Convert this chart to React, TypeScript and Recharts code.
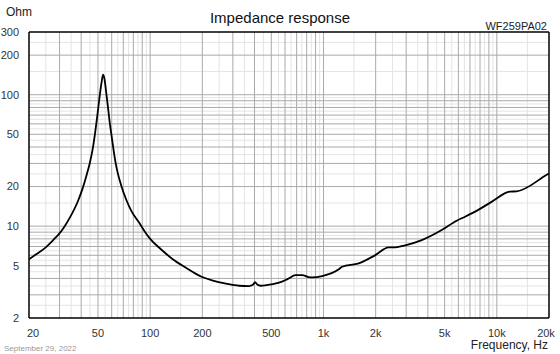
import React from "react";
import { LineChart, Line, XAxis, YAxis, ReferenceLine } from "recharts";

const freqs = [20, 22, 25, 28, 30, 32, 34.4, 38.4, 41, 43, 44.8, 46.5, 48, 49.5, 51, 52.5, 53.5, 54.5, 55.5, 57, 58.4, 60, 61.5, 63, 65.2, 68, 72.9, 78, 86.9, 93, 100, 115, 135, 160, 198, 230, 274, 326, 372, 392, 403, 415, 434, 500, 554, 620, 691, 754, 820, 861, 982, 1225, 1281, 1597, 1991, 2376, 2600, 2963, 3690, 4810, 5865, 6555, 7815, 9320, 11890, 13000, 19300, 20000];
const impedance = [5.6, 6.1, 6.9, 8.0, 8.8, 9.9, 11.6, 15.6, 19.8, 24.5, 30, 38, 50, 68, 95, 125, 142, 132, 110, 82, 62, 48, 38, 31, 25, 20.5, 15.8, 13, 10.5, 9.1, 8.0, 6.7, 5.6, 4.85, 4.12, 3.85, 3.65, 3.52, 3.5, 3.58, 3.74, 3.6, 3.52, 3.6, 3.71, 3.95, 4.24, 4.24, 4.1, 4.08, 4.17, 4.69, 4.91, 5.21, 6.02, 6.9, 6.9, 7.15, 7.83, 9.34, 11.0, 11.8, 13.3, 15.3, 18.3, 18.4, 24.5, 25.2];

const xTicks = [20, 50, 100, 200, 500, 1000, 2000, 5000, 10000, 20000];
const yTicks = [2, 5, 10, 20, 50, 100, 200, 300];

const data = freqs.map((f, i) => ({ f, z: impedance[i] }));

// grid: full steps darker, half steps lighter
const steps = [1, 2, 3, 4, 5, 6, 7, 8, 9];
const halves = [1.5, 2.5, 3.5, 4.5, 5.5, 6.5, 7.5, 8.5, 9.5];
const xMajor = [10, 100, 1000, 10000].flatMap((d) => steps.map((s) => s * d)).filter((v) => v > 20 && v < 20000);
const xMinor = [10, 100, 1000, 10000].flatMap((d) => halves.map((s) => s * d)).filter((v) => v > 20 && v < 20000);
const yMajor = [1, 10, 100].flatMap((d) => steps.map((s) => s * d)).filter((v) => v > 2 && v < 300);
const yMinor = [1, 10, 100].flatMap((d) => halves.map((s) => s * d)).filter((v) => v > 2 && v < 300);

const font = "'Liberation Sans', Arial, sans-serif";
const fmtX = (v: number) => (v >= 1000 ? `${v / 1000}k` : `${v}`);

function XTick({ x, y, payload }: any) {
  const v = payload.value;
  const dx = v === 20 ? 4 : v === 20000 ? -3 : 0;
  return (
    <text x={x + dx} y={y + 11} textAnchor="middle" fontSize={11} fill="#333" fontFamily={font}>
      {fmtX(v)}
    </text>
  );
}

export default function App() {
  return (
    <div style={{ position: "absolute", left: 0, top: 0, width: 560, height: 354, background: "#fff", fontFamily: font }}>
      <div style={{ position: "absolute", left: 0, width: 560, top: 9, textAlign: "center", fontSize: 15, color: "#111" }}>
        Impedance response
      </div>
      <div style={{ position: "absolute", left: 6, top: 5, fontSize: 12, color: "#222" }}>Ohm</div>
      <div style={{ position: "absolute", right: 13, top: 20, fontSize: 11, color: "#222" }}>WF259PA02</div>
      <div style={{ position: "absolute", right: 12, top: 338, fontSize: 12, color: "#222" }}>Frequency, Hz</div>
      <div style={{ position: "absolute", left: 4, top: 344, fontSize: 8, color: "#999" }}>September 29, 2022</div>
      <LineChart width={560} height={354} data={data} margin={{ top: 32, right: 11, bottom: 16, left: 0 }}>
        <XAxis
          dataKey="f"
          type="number"
          scale="log"
          domain={[20, 20000]}
          ticks={xTicks}
          interval={0}
          allowDataOverflow
          axisLine={{ stroke: "#000", strokeWidth: 1.5 }}
          tickLine={false}
          height={20}
          tick={<XTick />}
        />
        <YAxis
          type="number"
          scale="log"
          domain={[2, 300]}
          ticks={yTicks}
          interval={0}
          allowDataOverflow
          axisLine={{ stroke: "#000", strokeWidth: 1.5 }}
          tickLine={false}
          width={29}
          tick={{ fontSize: 11, fill: "#333", fontFamily: font }}
          tickMargin={4}
        />
        {xMinor.map((v) => (
          <ReferenceLine key={`xm${v}`} x={v} stroke="#e4e4e4" strokeWidth={1} />
        ))}
        {yMinor.map((v) => (
          <ReferenceLine key={`ym${v}`} y={v} stroke="#e4e4e4" strokeWidth={1} />
        ))}
        {xMajor.map((v) => (
          <ReferenceLine key={`xM${v}`} x={v} stroke="#aaaaaa" strokeWidth={1} />
        ))}
        {yMajor.map((v) => (
          <ReferenceLine key={`yM${v}`} y={v} stroke="#aaaaaa" strokeWidth={1} />
        ))}
        <ReferenceLine x={20000} stroke="#000" strokeWidth={1.5} />
        <ReferenceLine y={300} stroke="#000" strokeWidth={1.5} />
        <Line
          dataKey="z"
          type="monotone"
          stroke="#000"
          strokeWidth={1.8}
          dot={false}
          isAnimationActive={false}
        />
      </LineChart>
    </div>
  );
}
